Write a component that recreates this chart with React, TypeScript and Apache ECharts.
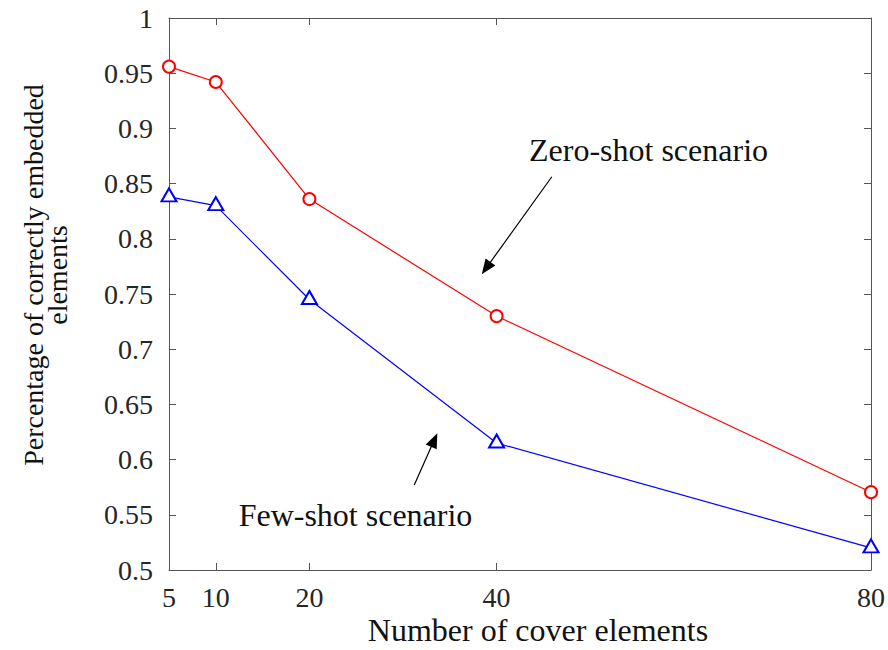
import React, { useEffect, useRef } from "react";
import * as echarts from "echarts";

const coverElements = [5, 10, 20, 40, 80];
const zeroShot = [0.956, 0.942, 0.836, 0.73, 0.5705];
const fewShot = [0.838, 0.83, 0.745, 0.615, 0.52];
const xTicks = [5, 10, 20, 40, 80];
const yTicks = [0.5, 0.55, 0.6, 0.65, 0.7, 0.75, 0.8, 0.85, 0.9, 0.95, 1];
const zeroArrow = [[45.9, 0.8562], [38.88, 0.7734]];
const fewArrow = [[31.2, 0.577], [33.34, 0.6177]];

const FONT = "Liberation Serif";

export default function App() {
  const ref = useRef<HTMLDivElement>(null);
  useEffect(() => {
    if (!ref.current) return;
    const chart = echarts.init(ref.current, undefined, { renderer: "svg" });
    const axisLine = { show: true, lineStyle: { color: "#555", width: 1 } };
    const tick = (vals: number[]) => ({
      show: true,
      inside: true,
      length: 7,
      customValues: vals,
      lineStyle: { color: "#555", width: 1 },
    });
    const txt = (text: string, x: number, y: number, size: number, extra: any = {}) => ({
      type: "text",
      x,
      y,
      ...extra,
      style: {
        text,
        fontFamily: FONT,
        fontSize: size,
        fill: "#111",
        textAlign: "center",
        textVerticalAlign: "middle",
        ...(extra.style || {}),
      },
    });
    chart.setOption({
      animation: false,
      backgroundColor: "#fff",
      textStyle: { fontFamily: FONT },
      grid: { left: 169, right: 17, top: 18, bottom: 80 },
      xAxis: [
        {
          type: "value",
          min: 5,
          max: 80,
          position: "bottom",
          axisLine,
          axisTick: tick(xTicks),
          axisLabel: {
            customValues: xTicks,
            margin: 13,
            fontFamily: FONT,
            fontSize: 28,
            color: "#262626",
          },
          splitLine: { show: false },
        },
        {
          type: "value",
          min: 5,
          max: 80,
          position: "top",
          axisLine,
          axisTick: tick(xTicks),
          axisLabel: { show: false },
          splitLine: { show: false },
        },
      ],
      yAxis: [
        {
          type: "value",
          min: 0.5,
          max: 1,
          interval: 0.05,
          position: "left",
          axisLine,
          axisTick: tick(yTicks),
          axisLabel: {
            margin: 16,
            fontFamily: FONT,
            fontSize: 28,
            color: "#262626",
            formatter: (v: number) => String(parseFloat(v.toFixed(2))),
          },
          splitLine: { show: false },
        },
        {
          type: "value",
          min: 0.5,
          max: 1,
          interval: 0.05,
          position: "right",
          axisLine,
          axisTick: tick(yTicks),
          axisLabel: { show: false },
          splitLine: { show: false },
        },
      ],
      series: [
        {
          name: "Zero-shot scenario",
          type: "line",
          data: coverElements.map((x, i) => [x, zeroShot[i]]),
          symbol: "emptyCircle",
          symbolSize: 12,
          showAllSymbol: true,
          color: "#ff0000",
          lineStyle: { color: "#ff0000", width: 1.2 },
          itemStyle: { color: "#ff0000", borderColor: "#ff0000", borderWidth: 1.2 },
          z: 3,
          markLine: {
            silent: true,
            symbol: ["none", "triangle"],
            symbolSize: [12, 15],
            lineStyle: { color: "#000", width: 1.2, type: "solid" },
            itemStyle: { color: "#000" },
            label: { show: false },
            data: [
              [
                { coord: zeroArrow[0], symbol: "none" },
                { coord: zeroArrow[1], symbol: "triangle" },
              ],
            ],
          },
        },
        {
          name: "Few-shot scenario",
          type: "line",
          data: coverElements.map((x, i) => [x, fewShot[i]]),
          symbol: "emptyTriangle",
          symbolSize: [15, 13],
          symbolOffset: [0, -2],
          showAllSymbol: true,
          color: "#0000ff",
          lineStyle: { color: "#0000ff", width: 1.2 },
          itemStyle: { color: "#0000ff", borderColor: "#0000ff", borderWidth: 1.2 },
          z: 3,
          markLine: {
            silent: true,
            symbol: ["none", "triangle"],
            symbolSize: [12, 15],
            lineStyle: { color: "#000", width: 1.2, type: "solid" },
            itemStyle: { color: "#000" },
            label: { show: false },
            data: [
              [
                { coord: fewArrow[0], symbol: "none" },
                { coord: fewArrow[1], symbol: "triangle" },
              ],
            ],
          },
        },
      ],
      graphic: [
        txt("Zero-shot scenario", 648.5, 150, 32),
        txt("Few-shot scenario", 355.5, 515, 32),
        txt("Number of cover elements", 538, 630, 32),
        txt("Percentage of correctly embedded\nelements", 45, 275, 28, {
          rotation: Math.PI / 2,
          style: { lineHeight: 24 },
        }),
      ],
    });
    return () => chart.dispose();
  }, []);
  return (
    <div
      ref={ref}
      style={{ position: "fixed", left: 0, top: 0, width: 888, height: 650 }}
    />
  );
}
